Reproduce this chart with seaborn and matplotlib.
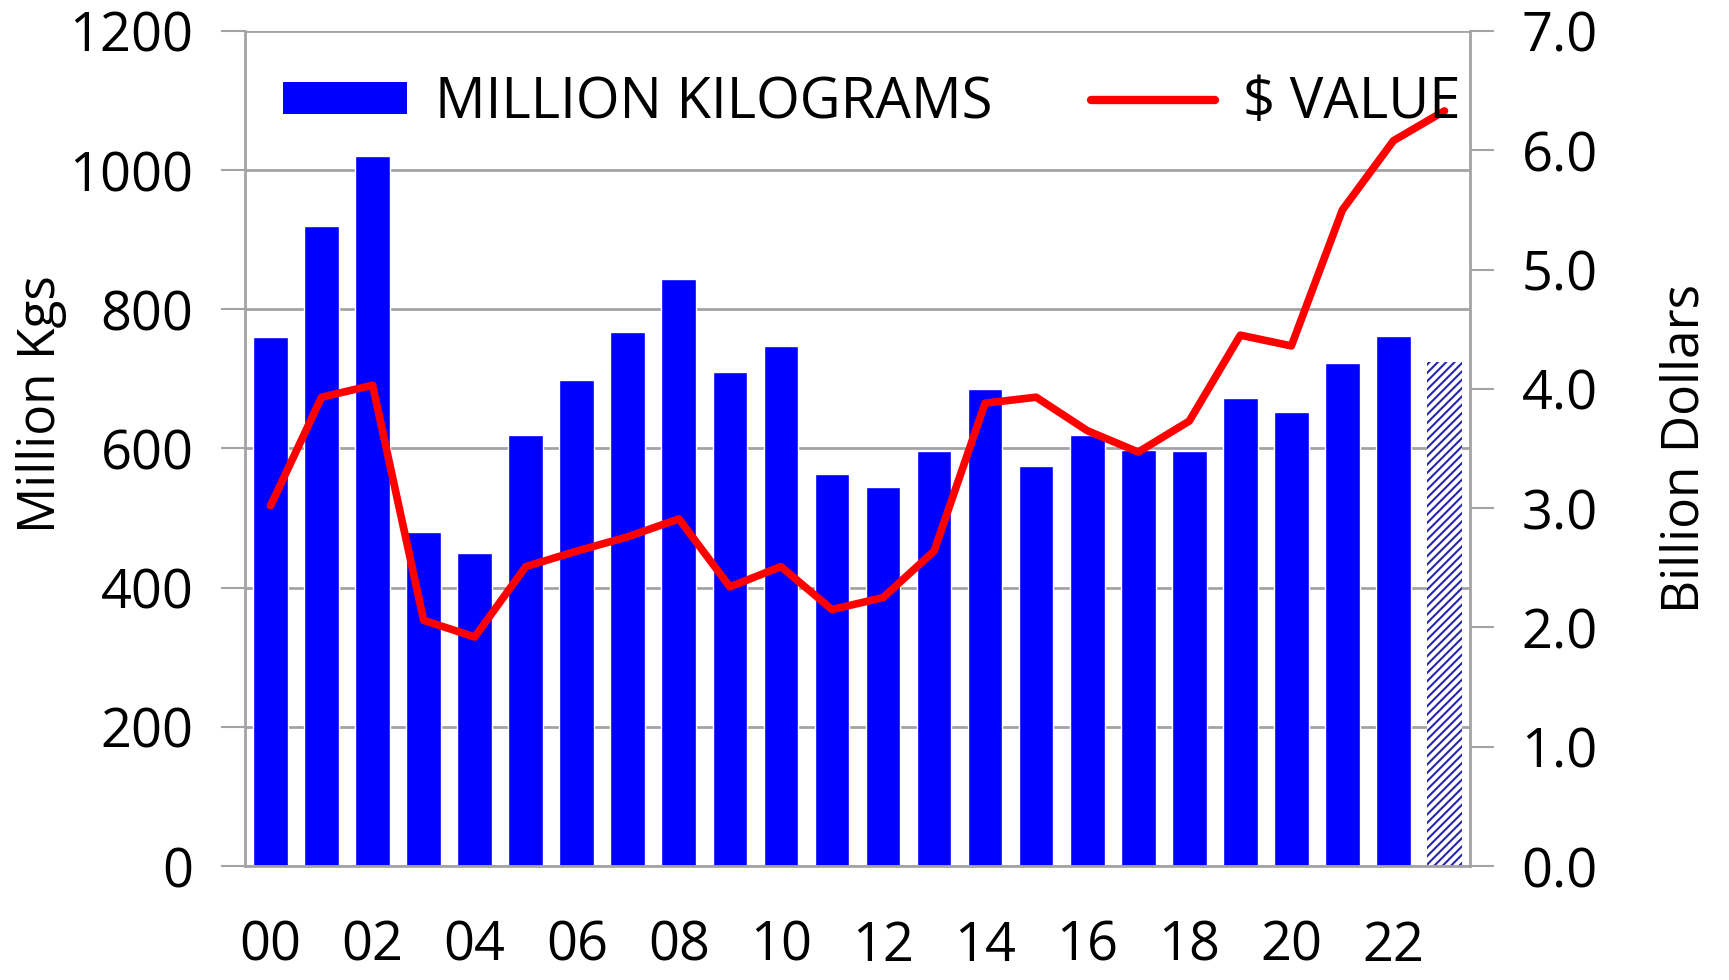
import numpy as np
import pandas as pd
import matplotlib
matplotlib.use("Agg")
import matplotlib.pyplot as plt
import seaborn as sns
from matplotlib.patches import Patch
from matplotlib.lines import Line2D

# chart data (years 2000-2023, last year is a forecast)
years = [f"{y:02d}" for y in range(0, 24)]
million_kgs = [760, 920, 1020, 480, 450, 620, 698, 767, 843, 710, 748, 563,
               545, 596, 685, 575, 620, 598, 596, 672, 652, 723, 761, 724]
value_bn = [3.02, 3.93, 4.03, 2.06, 1.92, 2.51, 2.64, 2.76, 2.91, 2.34, 2.51, 2.15,
            2.25, 2.64, 3.88, 3.93, 3.65, 3.47, 3.73, 4.45, 4.36, 5.50, 6.08, 6.33]
left_ticks = [0, 200, 400, 600, 800, 1000, 1200]
right_ticks = [0, 1, 2, 3, 4, 5, 6, 7]

sns.set_theme(style="white")
plt.rcParams['font.family'] = ['Open Sans', 'DejaVu Sans']
plt.rcParams['text.color'] = 'black'
plt.rcParams['axes.labelcolor'] = 'black'
plt.rcParams['xtick.labelcolor'] = 'black'
plt.rcParams['ytick.labelcolor'] = 'black'
plt.rcParams['hatch.linewidth'] = 1.5

grey = "#a3a3a3"
fig = plt.figure(figsize=(17.29, 9.8), dpi=100)
ax = fig.add_axes([0.1417, 0.1163, 0.7085, 0.8521])

df = pd.DataFrame({"year": years, "kgs": million_kgs, "value": value_bn})
sns.barplot(data=df, x="year", y="kgs", color="#0000ff", saturation=1,
            width=0.68, ax=ax, zorder=2)

# forecast bar is hatched
last = ax.patches[len(years) - 1]
last.set_facecolor("white")
last.set_edgecolor("#2626b0")
last.set_hatch("////")
last.set_linewidth(0)

ax.set_axisbelow(True)
ax.yaxis.grid(True, color=grey, lw=2)
ax.set_xlim(-0.5, len(years) - 0.5)
ax.set_ylim(0, 1200)
ax.set_yticks(left_ticks)
ax.set_xticks(range(0, len(years), 2))
ax.set_xticklabels(years[::2])
ax.set_xticks(np.arange(-0.5, len(years), 1), minor=True)
ax.tick_params(axis="x", which="major", length=0, pad=38, labelsize=39)
ax.tick_params(axis="x", which="minor", length=17, width=1.5, color=grey)
ax.tick_params(axis="y", length=17, width=1.5, color=grey, pad=20, labelsize=39)
ax.set_xlabel("")
ax.set_ylabel("Million Kgs", fontsize=37)
ax.yaxis.set_label_coords(-0.145, 0.553)
for side in ["left", "right", "bottom", "top"]:
    ax.spines[side].set_color(grey)
    ax.spines[side].set_linewidth(2)
ax.spines["top"].set_visible(False)

ax2 = ax.twinx()
sns.lineplot(x=np.arange(len(years)), y=value_bn, color="#ff0000", lw=5.5, ax=ax2)
ax2.set_ylim(0, 7)
ax2.set_yticks(right_ticks)
ax2.set_yticklabels([f"{t:.1f}" for t in right_ticks])
ax2.tick_params(axis="y", length=17, width=1.5, color=grey, pad=20, labelsize=39)
ax2.set_ylabel("Billion Dollars", fontsize=37)
ax2.yaxis.set_label_coords(1.155, 0.50)
for side in ["left", "right", "bottom", "top"]:
    ax2.spines[side].set_visible(False)
ax2.set_xlim(-0.5, len(years) - 0.5)

handles = [Patch(facecolor="#0000ff", edgecolor="none"),
           Line2D([0], [0], color="#ff0000", lw=6)]
leg = ax2.legend(handles, ["MILLION KILOGRAMS", "$ VALUE"], ncol=2, frameon=False,
                 loc="center left", bbox_to_anchor=(0.031, 0.913), borderpad=0,
                 borderaxespad=0, fontsize=40.5, handlelength=2.2, handleheight=0.5,
                 handletextpad=0.5, columnspacing=1.75)

fig.savefig("out.png", dpi=100)
